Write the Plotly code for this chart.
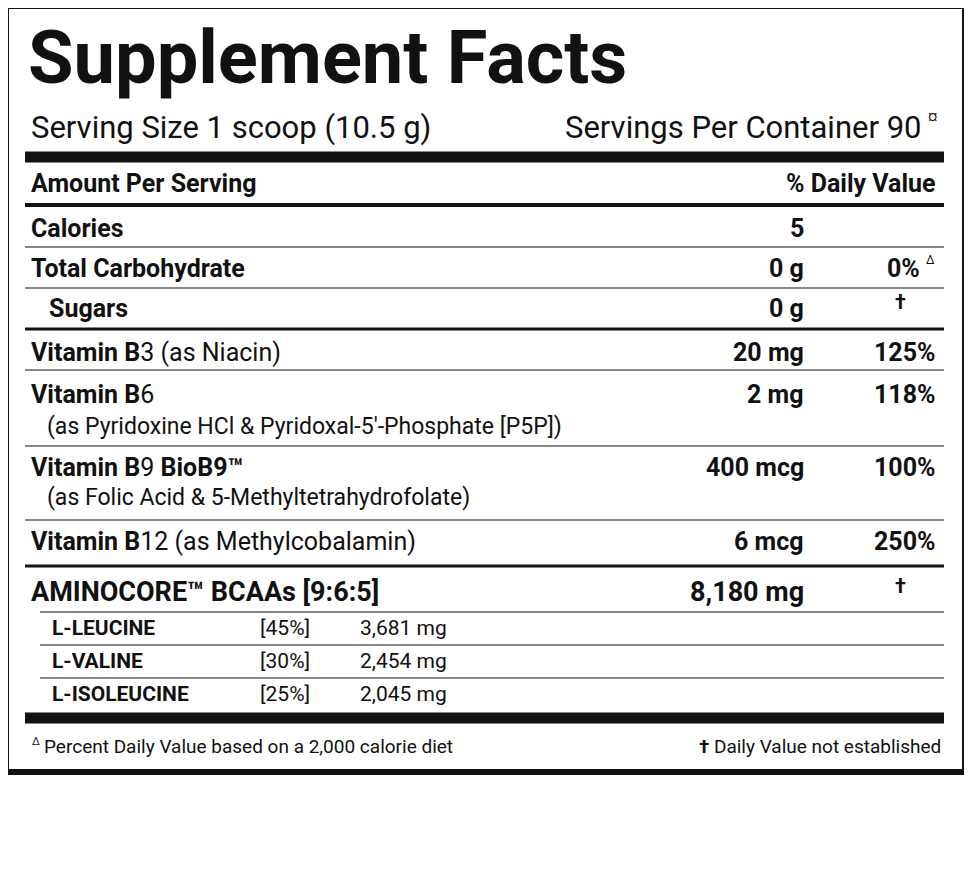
import plotly.graph_objects as go

W, H = 972, 875
OFF = 8  # page body margin
FONT = "Roboto, Liberation Sans, sans-serif"

# label data
title = "Supplement Facts"
serving_size = "Serving Size 1 scoop (10.5 g)"
servings = "Servings Per Container 90"
nutrients = ["<b>Calories</b>", "<b>Total Carbohydrate</b>", "<b>Sugars</b>",
             "<b>Vitamin B</b>3 (as Niacin)", "<b>Vitamin B</b>6",
             "<b>Vitamin B</b>9 <b>BioB9™</b>",
             "<b>Vitamin B</b>12 (as Methylcobalamin)", "<b>AMINOCORE™ BCAAs [9:6:5]</b>"]
sources = ["", "", "", "", "(as Pyridoxine HCl & Pyridoxal-5'-Phosphate [P5P])",
           "(as Folic Acid & 5-Methyltetrahydrofolate)", "", ""]
amounts = ["5", "0 g", "0 g", "20 mg", "2 mg", "400 mcg", "6 mcg", "8,180 mg"]
daily_values = ["", "0%", "†", "125%", "118%", "100%", "250%", "†"]
amino_names = ["L-LEUCINE", "L-VALINE", "L-ISOLEUCINE"]
amino_share = ["[45%]", "[30%]", "[25%]"]
amino_mg = ["3,681 mg", "2,454 mg", "2,045 mg"]
footnote_left = "Percent Daily Value based on a 2,000 calorie diet"
footnote_right = "Daily Value not established"
other = ("<b>OTHER INGREDIENTS:</b>  Citric  Acid,  Natural  Flavors,  Sucralose,  "
         "Caramel  Color,  Lecithin")
other2 = "(Sunflower)."

# layout positions
row_y = [228, 268, 308, 352, 394, 467, 541, 592]
sub_y = [None, None, None, None, 426, 497, None, None]
amino_y = [628, 661, 694]

fig = go.Figure()
ann = []
shapes = []

def text(x, y, s, size, anchor="left", bold=False, color="#111"):
    if bold:
        s = "<b>" + s + "</b>"
    ann.append(dict(x=x, y=y, text=s, xref="x", yref="y", showarrow=False,
                    xanchor=anchor, yanchor="middle",
                    font=dict(family=FONT, size=size, color=color)))

def rule(y, th, x0=25, x1=944):
    shapes.append(dict(type="rect", xref="x", yref="y", x0=x0, x1=x1,
                       y0=y - th / 2, y1=y + th / 2,
                       fillcolor="#111", line=dict(width=0)))

# outer border
shapes.append(dict(type="rect", xref="x", yref="y", x0=6, x1=965, y0=6, y1=772,
                   line=dict(color="#111", width=6)))

text(26, 57, title, 74, bold=True)
text(29, 127, serving_size, 31)
text(924, 127, servings, 31, anchor="right")
text(926, 116, "¤", 13)
rule(157, 11)
text(29, 183, "Amount Per Serving", 25, bold=True)
text(938, 183, "% Daily Value", 25, anchor="right", bold=True)
rule(205, 4)

rule_after = [1, 1, 3, 1, 1, 1, 3, 1]
rule_y = [247, 288, 329, 370, 446, 520, 566, 612]
for i, name in enumerate(nutrients):
    x0 = 47 if i == 2 else 29
    size = 27 if i == 7 else 25
    text(x0, row_y[i], name, size)
    if sub_y[i]:
        text(45, sub_y[i], sources[i], 23)
    text(806, row_y[i], amounts[i], size, anchor="right", bold=True)
    dv = daily_values[i]
    if dv == "†":
        text(900, row_y[i] - 6, dv, 20, anchor="center", bold=True)
    elif dv:
        xr = 922 if i == 1 else 938
        text(xr, row_y[i], dv, 25, anchor="right", bold=True)
        if i == 1:
            text(924, row_y[i] - 8, "Δ", 12)
for i, yy in enumerate(rule_y):
    rule(yy, rule_after[i], x0=25 if i < 7 else 40)

for i, name in enumerate(amino_names):
    text(50, amino_y[i], name, 21, bold=True)
    text(258, amino_y[i], amino_share[i], 21)
    text(358, amino_y[i], amino_mg[i], 21)
    if i < 2:
        rule(amino_y[i] + 17, 1, x0=40)
rule(718, 11)

text(30, 741, "Δ", 11)
text(42, 746, footnote_left, 19)
text(943, 746, "<b>†</b> " + footnote_right, 19, anchor="right")

text(7, 819, other, 22)
text(7, 856, other2, 22)

fig.update_layout(
    width=W, height=H, margin=dict(l=0, r=0, t=0, b=0),
    paper_bgcolor="white", plot_bgcolor="white",
    xaxis=dict(range=[OFF, W + OFF], visible=False, fixedrange=True),
    yaxis=dict(range=[H + OFF, OFF], visible=False, fixedrange=True),
    annotations=ann, shapes=shapes, showlegend=False,
)
fig.write_html("out.html")
